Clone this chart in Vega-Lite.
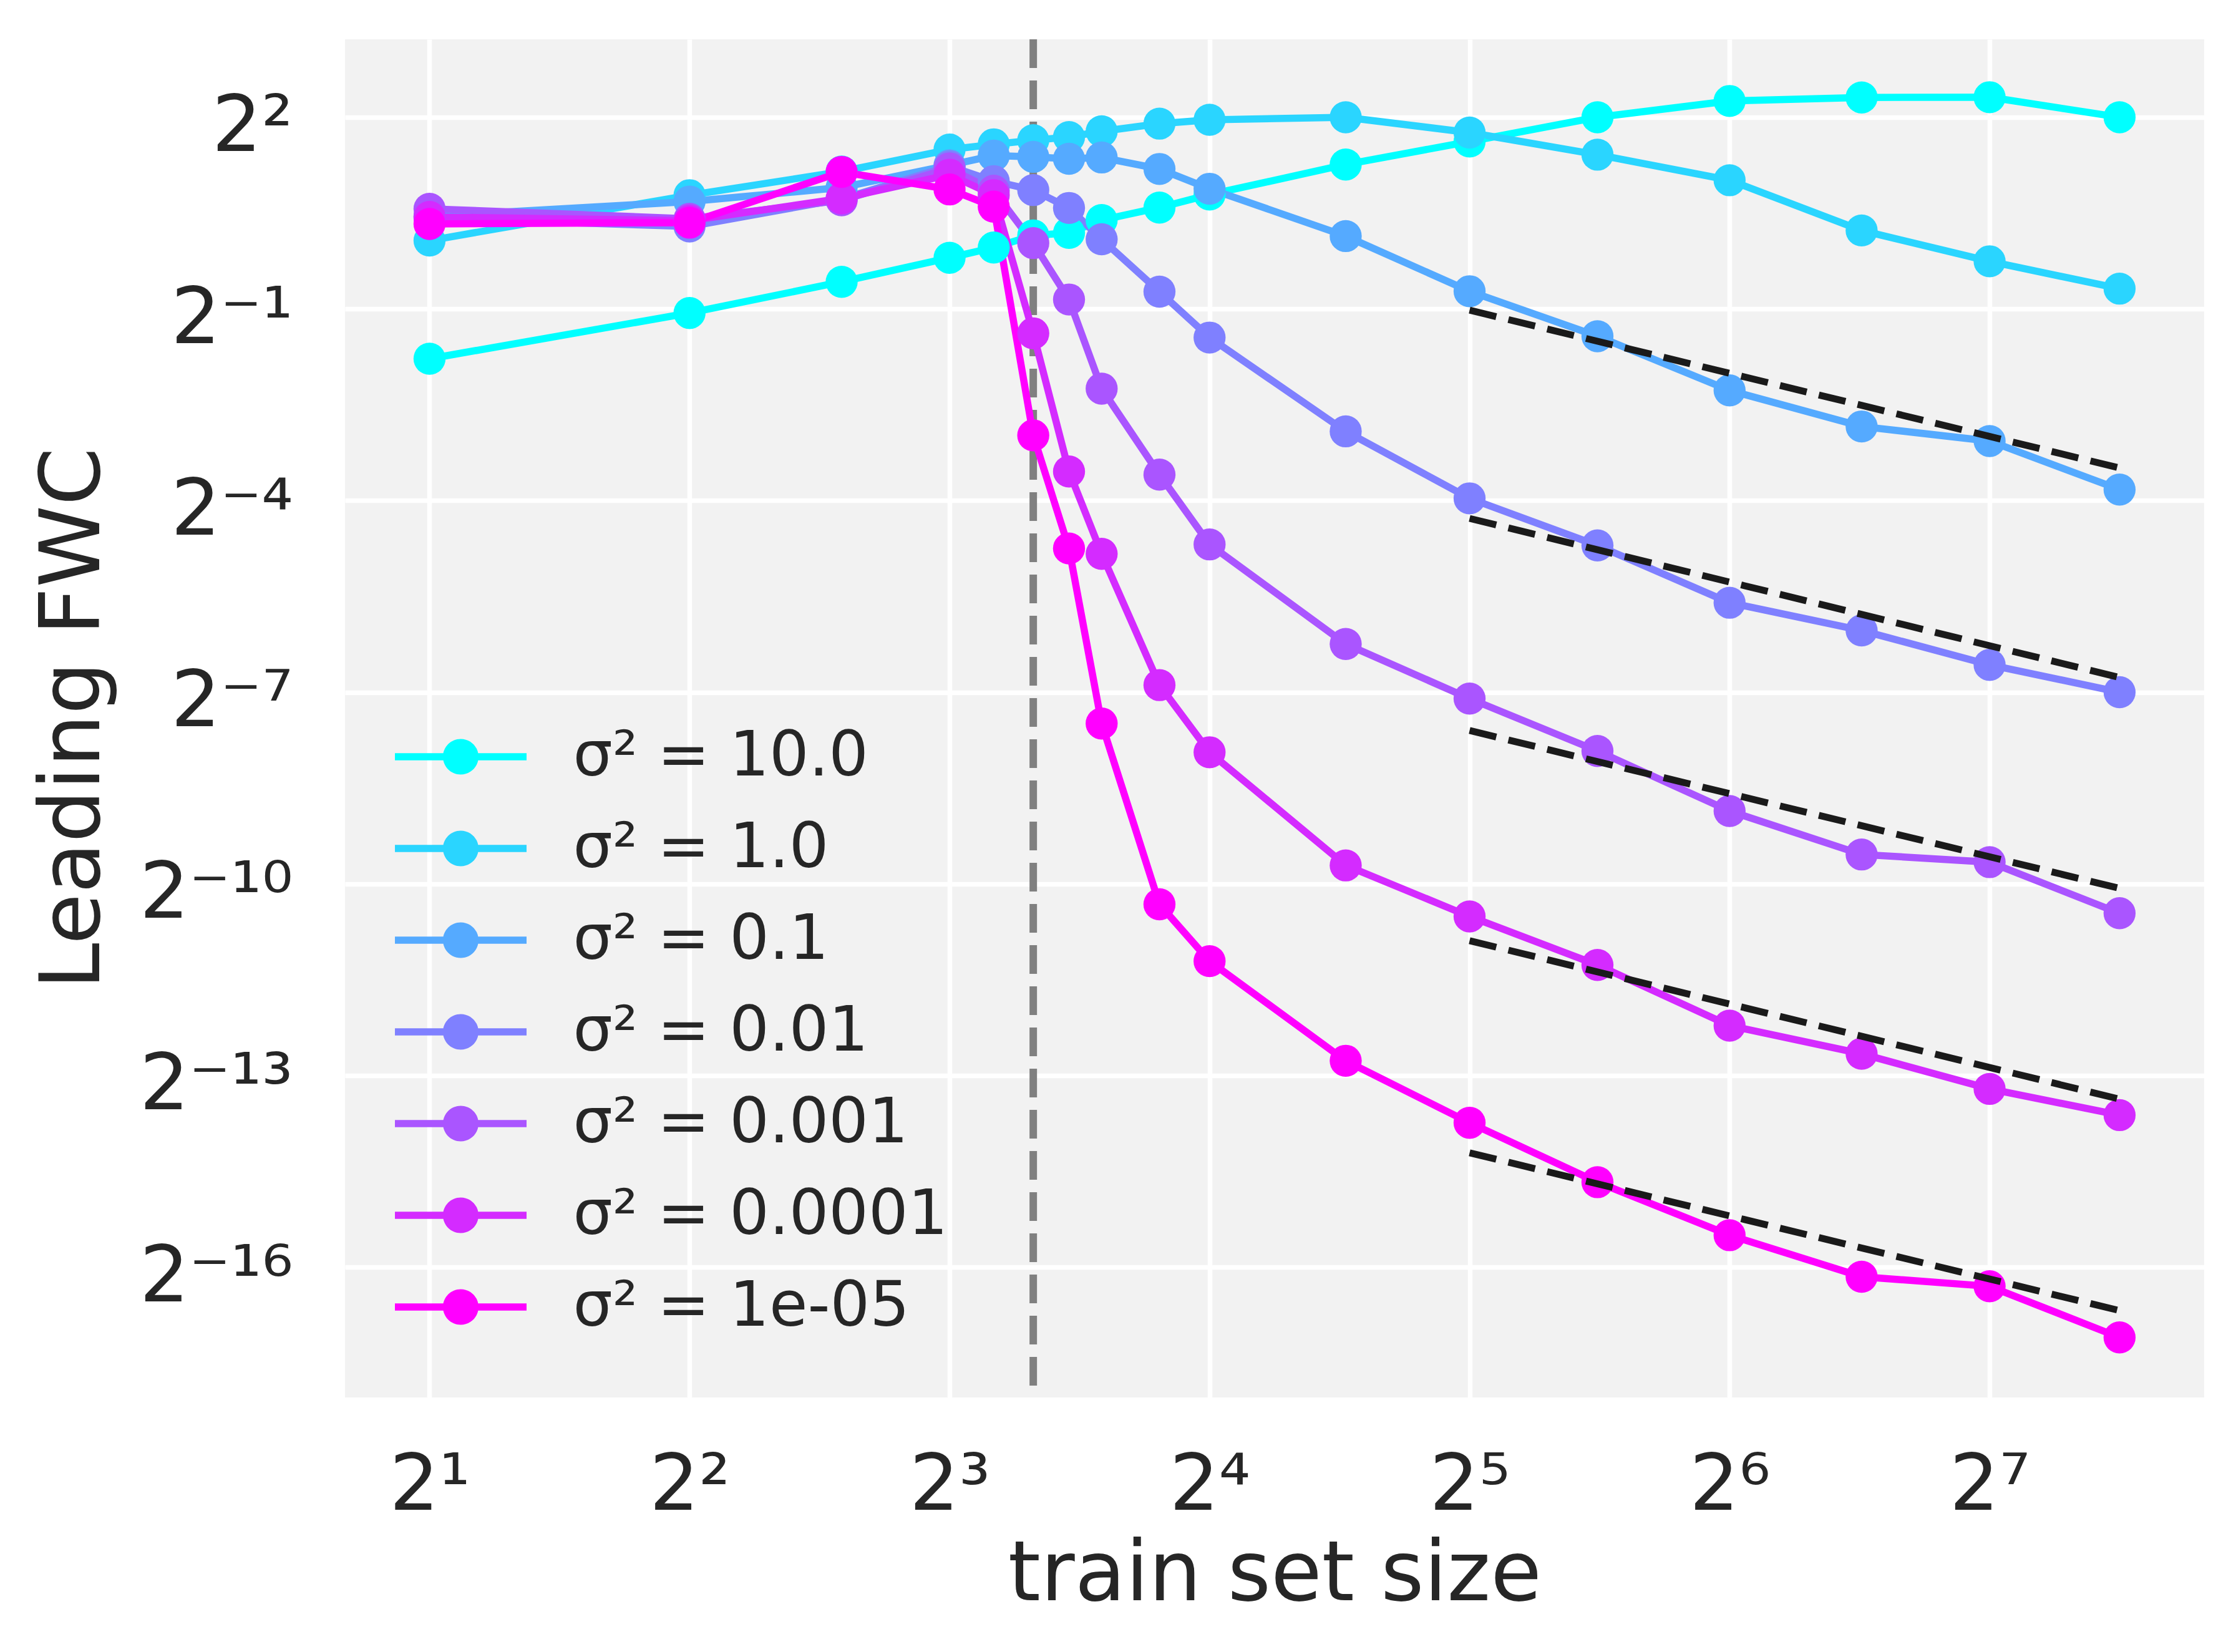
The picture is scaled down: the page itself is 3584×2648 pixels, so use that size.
{
  "$schema": "https://vega.github.io/schema/vega-lite/v6.json",
  "width": 2980,
  "height": 2177,
  "autosize": {"type": "none"},
  "padding": {"left": 553, "top": 63, "right": 51, "bottom": 408},
  "background": "white",
  "config": {
    "font": "DejaVu Sans",
    "view": {"fill": "#f2f2f2", "stroke": null},
    "axis": {
      "domain": false,
      "ticks": false,
      "tickSize": 0,
      "grid": true,
      "gridColor": "white",
      "gridWidth": 7.5,
      "labelFont": "DejaVu Sans",
      "labelFontSize": 125,
      "labelColor": "#262626",
      "labelLimit": 0,
      "titleFont": "DejaVu Sans",
      "titleFontSize": 133,
      "titleColor": "#262626",
      "titleFontWeight": "normal"
    }
  },
  "datasets": {
    "vline": [{"n": 10}],
    "series": [
      {"s": "σ² = 10.0", "n": 2, "v": 0.2912},
      {"s": "σ² = 10.0", "n": 4, "v": 0.4783},
      {"s": "σ² = 10.0", "n": 6, "v": 0.6708},
      {"s": "σ² = 10.0", "n": 8, "v": 0.8706},
      {"s": "σ² = 10.0", "n": 9, "v": 0.9727},
      {"s": "σ² = 10.0", "n": 10, "v": 1.1096},
      {"s": "σ² = 10.0", "n": 11, "v": 1.1408},
      {"s": "σ² = 10.0", "n": 12, "v": 1.3104},
      {"s": "σ² = 10.0", "n": 14, "v": 1.501},
      {"s": "σ² = 10.0", "n": 16, "v": 1.7291},
      {"s": "σ² = 10.0", "n": 23, "v": 2.395},
      {"s": "σ² = 10.0", "n": 32, "v": 3.074},
      {"s": "σ² = 10.0", "n": 45, "v": 4.0},
      {"s": "σ² = 10.0", "n": 64, "v": 4.773},
      {"s": "σ² = 10.0", "n": 91, "v": 4.959},
      {"s": "σ² = 10.0", "n": 128, "v": 4.97},
      {"s": "σ² = 10.0", "n": 181, "v": 4.0},
      {"s": "σ² = 1.0", "n": 2, "v": 1.0497},
      {"s": "σ² = 1.0", "n": 4, "v": 1.7171},
      {"s": "σ² = 1.0", "n": 6, "v": 2.219},
      {"s": "σ² = 1.0", "n": 8, "v": 2.819},
      {"s": "σ² = 1.0", "n": 9, "v": 2.981},
      {"s": "σ² = 1.0", "n": 10, "v": 3.117},
      {"s": "σ² = 1.0", "n": 11, "v": 3.227},
      {"s": "σ² = 1.0", "n": 12, "v": 3.434},
      {"s": "σ² = 1.0", "n": 14, "v": 3.732},
      {"s": "σ² = 1.0", "n": 16, "v": 3.891},
      {"s": "σ² = 1.0", "n": 23, "v": 4.0},
      {"s": "σ² = 1.0", "n": 32, "v": 3.387},
      {"s": "σ² = 1.0", "n": 45, "v": 2.665},
      {"s": "σ² = 1.0", "n": 64, "v": 2.0195},
      {"s": "σ² = 1.0", "n": 91, "v": 1.1712},
      {"s": "σ² = 1.0", "n": 128, "v": 0.838},
      {"s": "σ² = 1.0", "n": 181, "v": 0.6229},
      {"s": "σ² = 0.1", "n": 2, "v": 1.3661},
      {"s": "σ² = 0.1", "n": 4, "v": 1.6021},
      {"s": "σ² = 0.1", "n": 6, "v": 1.8661},
      {"s": "σ² = 0.1", "n": 8, "v": 2.378},
      {"s": "σ² = 0.1", "n": 9, "v": 2.639},
      {"s": "σ² = 0.1", "n": 10, "v": 2.603},
      {"s": "σ² = 0.1", "n": 11, "v": 2.549},
      {"s": "σ² = 0.1", "n": 12, "v": 2.585},
      {"s": "σ² = 0.1", "n": 14, "v": 2.282},
      {"s": "σ² = 0.1", "n": 16, "v": 1.8404},
      {"s": "σ² = 0.1", "n": 23, "v": 1.1019},
      {"s": "σ² = 0.1", "n": 32, "v": 0.6054},
      {"s": "σ² = 0.1", "n": 45, "v": 0.3717},
      {"s": "σ² = 0.1", "n": 64, "v": 0.2065},
      {"s": "σ² = 0.1", "n": 91, "v": 0.1396},
      {"s": "σ² = 0.1", "n": 128, "v": 0.1192},
      {"s": "σ² = 0.1", "n": 181, "v": 0.07041},
      {"s": "σ² = 0.01", "n": 2, "v": 1.3379},
      {"s": "σ² = 0.01", "n": 4, "v": 1.2226},
      {"s": "σ² = 0.01", "n": 6, "v": 1.6472},
      {"s": "σ² = 0.01", "n": 8, "v": 2.352},
      {"s": "σ² = 0.01", "n": 9, "v": 2.0},
      {"s": "σ² = 0.01", "n": 10, "v": 1.8151},
      {"s": "σ² = 0.01", "n": 11, "v": 1.4948},
      {"s": "σ² = 0.01", "n": 12, "v": 1.0644},
      {"s": "σ² = 0.01", "n": 14, "v": 0.6029},
      {"s": "σ² = 0.01", "n": 16, "v": 0.3663},
      {"s": "σ² = 0.01", "n": 23, "v": 0.1324},
      {"s": "σ² = 0.01", "n": 32, "v": 0.06399},
      {"s": "σ² = 0.01", "n": 45, "v": 0.03839},
      {"s": "σ² = 0.01", "n": 64, "v": 0.02062},
      {"s": "σ² = 0.01", "n": 91, "v": 0.01526},
      {"s": "σ² = 0.01", "n": 128, "v": 0.01051},
      {"s": "σ² = 0.01", "n": 181, "v": 0.0078125},
      {"s": "σ² = 0.001", "n": 2, "v": 1.4815},
      {"s": "σ² = 0.001", "n": 4, "v": 1.3287},
      {"s": "σ² = 0.001", "n": 6, "v": 1.6245},
      {"s": "σ² = 0.001", "n": 8, "v": 2.2974},
      {"s": "σ² = 0.001", "n": 9, "v": 1.8026},
      {"s": "σ² = 0.001", "n": 10, "v": 1.021},
      {"s": "σ² = 0.001", "n": 11, "v": 0.5536},
      {"s": "σ² = 0.001", "n": 12, "v": 0.2105},
      {"s": "σ² = 0.001", "n": 14, "v": 0.08281},
      {"s": "σ² = 0.001", "n": 16, "v": 0.03882},
      {"s": "σ² = 0.001", "n": 23, "v": 0.01318},
      {"s": "σ² = 0.001", "n": 32, "v": 0.007289},
      {"s": "σ² = 0.001", "n": 45, "v": 0.004129},
      {"s": "σ² = 0.001", "n": 64, "v": 0.002152},
      {"s": "σ² = 0.001", "n": 91, "v": 0.001343},
      {"s": "σ² = 0.001", "n": 128, "v": 0.001236},
      {"s": "σ² = 0.001", "n": 181, "v": 0.00071},
      {"s": "σ² = 0.0001", "n": 2, "v": 1.3566},
      {"s": "σ² = 0.0001", "n": 4, "v": 1.3013},
      {"s": "σ² = 0.0001", "n": 6, "v": 1.6586},
      {"s": "σ² = 0.0001", "n": 8, "v": 2.1435},
      {"s": "σ² = 0.0001", "n": 9, "v": 1.7171},
      {"s": "σ² = 0.0001", "n": 10, "v": 0.3834},
      {"s": "σ² = 0.0001", "n": 11, "v": 0.08568},
      {"s": "σ² = 0.0001", "n": 12, "v": 0.03506},
      {"s": "σ² = 0.0001", "n": 14, "v": 0.008438},
      {"s": "σ² = 0.0001", "n": 16, "v": 0.00407},
      {"s": "σ² = 0.0001", "n": 23, "v": 0.001193},
      {"s": "σ² = 0.0001", "n": 32, "v": 0.0006857},
      {"s": "σ² = 0.0001", "n": 45, "v": 0.0004049},
      {"s": "σ² = 0.0001", "n": 64, "v": 0.0002096},
      {"s": "σ² = 0.0001", "n": 91, "v": 0.0001545},
      {"s": "σ² = 0.0001", "n": 128, "v": 0.00010554},
      {"s": "σ² = 0.0001", "n": 181, "v": 0.00007943},
      {"s": "σ² = 1e-05", "n": 2, "v": 1.257},
      {"s": "σ² = 1e-05", "n": 4, "v": 1.2746},
      {"s": "σ² = 1e-05", "n": 6, "v": 2.21},
      {"s": "σ² = 1e-05", "n": 8, "v": 1.8277},
      {"s": "σ² = 1e-05", "n": 9, "v": 1.5157},
      {"s": "σ² = 1e-05", "n": 10, "v": 0.12675},
      {"s": "σ² = 1e-05", "n": 11, "v": 0.03716},
      {"s": "σ² = 1e-05", "n": 12, "v": 0.005563},
      {"s": "σ² = 1e-05", "n": 14, "v": 0.0007823},
      {"s": "σ² = 1e-05", "n": 16, "v": 0.0004221},
      {"s": "σ² = 1e-05", "n": 23, "v": 0.00014317},
      {"s": "σ² = 1e-05", "n": 32, "v": 0.00007309},
      {"s": "σ² = 1e-05", "n": 45, "v": 0.00003836},
      {"s": "σ² = 1e-05", "n": 64, "v": 0.00002158},
      {"s": "σ² = 1e-05", "n": 91, "v": 0.000013753},
      {"s": "σ² = 1e-05", "n": 128, "v": 0.000012394},
      {"s": "σ² = 1e-05", "n": 181, "v": 0.0000071186}
    ],
    "fits": [
      {"fit": "0.1", "n": 32, "v": 0.4931},
      {"fit": "0.1", "n": 181, "v": 0.089},
      {"fit": "0.01", "n": 32, "v": 0.05148},
      {"fit": "0.01", "n": 181, "v": 0.009163},
      {"fit": "0.001", "n": 32, "v": 0.005154},
      {"fit": "0.001", "n": 181, "v": 0.0009303},
      {"fit": "0.0001", "n": 32, "v": 0.000527},
      {"fit": "0.0001", "n": 181, "v": 0.00009446},
      {"fit": "1e-05", "n": 32, "v": 0.00005277},
      {"fit": "1e-05", "n": 181, "v": 0.000009524}
    ]
  },
  "layer": [
    {
      "data": {"name": "vline"},
      "mark": {"type": "rule", "color": "#808080", "strokeWidth": 12, "strokeDash": [46, 20]},
      "encoding": {
        "x": {"field": "n", "type": "quantitative", "title": "train set size",
              "scale": {"type": "log", "base": 2, "domain": [1.5965, 226.8], "nice": false}}
      }
    },
    {
      "data": {"name": "series"},
      "mark": {"type": "line", "strokeWidth": 11.5},
      "encoding": {
        "x": {"field": "n", "type": "quantitative", "title": "train set size",
              "scale": {"type": "log", "base": 2, "domain": [1.5965, 226.8], "nice": false},
              "axis": {
                "values": [2, 4, 8, 16, 32, 64, 128],
                "labelExpr": "'2' + replace(replace(replace(replace(replace(replace(replace(replace(replace(replace(replace('' + round(log(datum.value) / LN2), '-', '⁻'), '0', '⁰'), '1', '¹'), '2', '²'), '3', '³'), '4', '⁴'), '5', '⁵'), '6', '⁶'), '7', '⁷'), '8', '⁸'), '9', '⁹')",
                "labelPadding": 80,
                "titlePadding": 19
              }},
        "y": {"field": "v", "type": "quantitative", "title": "Leading FWC",
              "scale": {"type": "log", "base": 2, "domain": [0.0000037103, 9.318], "nice": false},
              "axis": {
                "values": [4, 0.5, 0.0625, 0.0078125, 0.0009765625, 0.0001220703125, 0.0000152587890625],
                "labelExpr": "'2' + replace(replace(replace(replace(replace(replace(replace(replace(replace(replace(replace('' + round(log(datum.value) / LN2), '-', '⁻'), '0', '⁰'), '1', '¹'), '2', '²'), '3', '³'), '4', '⁴'), '5', '⁵'), '6', '⁶'), '7', '⁷'), '8', '⁸'), '9', '⁹')",
                "labelPadding": 84,
                "labelOffset": 16,
                "titleX": -395,
                "titleY": 1088,
                "titleBaseline": "alphabetic",
                "titleAngle": -90
              }},
        "color": {"field": "s", "type": "nominal",
                  "scale": {"domain": ["σ² = 10.0", "σ² = 1.0", "σ² = 0.1", "σ² = 0.01", "σ² = 0.001", "σ² = 0.0001", "σ² = 1e-05"],
                            "range": ["#00ffff", "#2ad5ff", "#55aaff", "#7f80ff", "#aa55ff", "#d42bff", "#ff00ff"]}}
      }
    },
    {
      "data": {"name": "series"},
      "mark": {"type": "point", "filled": true, "opacity": 1, "size": 2642},
      "encoding": {
        "x": {"field": "n", "type": "quantitative", "title": "train set size",
              "scale": {"type": "log", "base": 2, "domain": [1.5965, 226.8], "nice": false}},
        "y": {"field": "v", "type": "quantitative", "title": "Leading FWC",
              "scale": {"type": "log", "base": 2, "domain": [0.0000037103, 9.318], "nice": false}},
        "color": {"field": "s", "type": "nominal",
                  "scale": {"domain": ["σ² = 10.0", "σ² = 1.0", "σ² = 0.1", "σ² = 0.01", "σ² = 0.001", "σ² = 0.0001", "σ² = 1e-05"],
                            "range": ["#00ffff", "#2ad5ff", "#55aaff", "#7f80ff", "#aa55ff", "#d42bff", "#ff00ff"]},
                  "legend": {
                    "title": null,
                    "orient": "none",
                    "legendX": 88.5,
                    "legendY": 1053,
                    "padding": 0,
                    "symbolType": "M-1.0876,-0.0593L1.0876,-0.0593L1.0876,0.0593L-1.0876,0.0593Z M0.294,0A0.294,0.294 0 1,1 -0.294,0A0.294,0.294 0 1,1 0.294,0Z",
                    "symbolSize": 37636,
                    "symbolStrokeWidth": 0,
                    "symbolOpacity": 1,
                    "labelFont": "DejaVu Sans",
                    "labelFontSize": 100,
                    "labelColor": "#262626",
                    "labelOffset": 83,
                    "labelLimit": 0,
                    "rowPadding": 0,
                    "encode": {"symbols": {"update": {"fill": {"scale": "color", "field": "value"}, "stroke": {"value": "transparent"}}}}
                  }}
      }
    },
    {
      "data": {"name": "fits"},
      "mark": {"type": "line", "color": "#1a1a1a", "strokeWidth": 11, "strokeDash": [44, 20]},
      "encoding": {
        "x": {"field": "n", "type": "quantitative", "title": "train set size",
              "scale": {"type": "log", "base": 2, "domain": [1.5965, 226.8], "nice": false}},
        "y": {"field": "v", "type": "quantitative", "title": "Leading FWC",
              "scale": {"type": "log", "base": 2, "domain": [0.0000037103, 9.318], "nice": false}},
        "detail": {"field": "fit", "type": "nominal"}
      }
    }
  ]
}
